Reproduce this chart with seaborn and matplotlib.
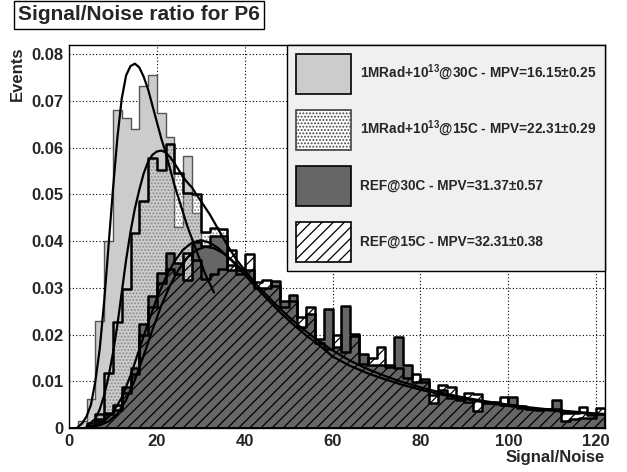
import numpy as np
import pandas as pd
import matplotlib
matplotlib.use('Agg')
import matplotlib.pyplot as plt
import seaborn as sns
from matplotlib.patches import Patch
from matplotlib.ticker import MultipleLocator

# ==========================================
# 数据：S/N 直方图 (bin 宽度 2, 0 - 122)
# ==========================================
bin_edges = np.arange(0, 124, 2)
bin_centers = bin_edges[:-1] + 1

# 1MRad+10^13 @30C
rad30 = [0, 0.0015, 0.0063, 0.0229, 0.040, 0.0681, 0.0664, 0.0641, 0.0732, 0.0756,
         0.0675, 0.0624, 0.043, 0.0583, 0.046, 0.036, 0.030, 0.026, 0.022, 0.019,
         0.017, 0.015, 0.013, 0.012, 0.010, 0.009, 0.008, 0.007, 0.006, 0.0055,
         0.005, 0.0045, 0.004, 0.0035, 0.003, 0.003, 0.0025, 0.0025, 0.002, 0.002,
         0.002, 0.0015, 0.0015, 0.0015, 0.001, 0.001, 0.001, 0.001, 0.001, 0.001,
         0.001, 0.001, 0.0008, 0.0008, 0.0008, 0.0008, 0.0006, 0.0006, 0.0006, 0.0006,
         0.0006]
# 1MRad+10^13 @15C
rad15 = [0, 0, 0.001, 0.003, 0.0118, 0.0227, 0.0297, 0.0418, 0.0486, 0.0579,
         0.0552, 0.0608, 0.0547, 0.0504, 0.050, 0.042, 0.0429, 0.0427, 0.035, 0.031,
         0.027, 0.024, 0.021, 0.019, 0.017, 0.015, 0.013, 0.012, 0.011, 0.010,
         0.009, 0.008, 0.007, 0.0065, 0.006, 0.0055, 0.005, 0.0045, 0.004, 0.004,
         0.0035, 0.003, 0.003, 0.0028, 0.0026, 0.0024, 0.0022, 0.002, 0.002, 0.0018,
         0.0016, 0.0015, 0.0014, 0.0013, 0.0012, 0.0011, 0.001, 0.001, 0.001, 0.0009,
         0.0009]
# REF @30C
ref30 = [0, 0, 0.0003, 0.0015, 0.0033, 0.0038, 0.0088, 0.0128, 0.0222, 0.0282,
         0.0331, 0.0374, 0.0353, 0.0317, 0.0399, 0.0390, 0.0411, 0.0411, 0.0338, 0.0338,
         0.0338, 0.0299, 0.0300, 0.0315, 0.0272, 0.0285, 0.0217, 0.0245, 0.0190, 0.0255,
         0.0174, 0.0262, 0.0201, 0.0158, 0.0135, 0.0135, 0.0131, 0.0194, 0.0135, 0.0099,
         0.0104, 0.0053, 0.0081, 0.0064, 0.0063, 0.0055, 0.0036, 0.0056, 0.0055, 0.0050,
         0.0067, 0.0047, 0.0040, 0.0040, 0.0041, 0.0060, 0.0015, 0.0019, 0.0021, 0.0021,
         0.0030]
# REF @15C
ref15 = [0, 0, 0.0005, 0.002, 0.003, 0.005, 0.0075, 0.0115, 0.020, 0.026,
         0.031, 0.034, 0.033, 0.0374, 0.036, 0.032, 0.033, 0.034, 0.0382, 0.033,
         0.0373, 0.0312, 0.0316, 0.0305, 0.0260, 0.0272, 0.0237, 0.0260, 0.0181, 0.0170,
         0.0199, 0.0163, 0.0196, 0.0138, 0.0149, 0.0173, 0.0135, 0.0129, 0.0106, 0.0116,
         0.0099, 0.0071, 0.0093, 0.0087, 0.0060, 0.0074, 0.0072, 0.0054, 0.0053, 0.0066,
         0.0049, 0.0042, 0.0040, 0.0038, 0.0040, 0.0040, 0.0033, 0.0033, 0.0046, 0.0028,
         0.0043]

# 拟合曲线 (Landau)
fit_rad30_x = [2, 3, 4, 5, 6, 7, 8, 9, 10, 11, 12, 13, 14, 15, 16, 17, 18, 19, 20,
               21, 22, 23, 24, 25, 26, 27, 28, 29, 30, 31, 32, 33]
fit_rad30_y = [0.0002, 0.001, 0.0025, 0.005, 0.010, 0.017, 0.027, 0.039, 0.051, 0.062,
               0.0705, 0.0755, 0.0775, 0.078, 0.0772, 0.0752, 0.0725, 0.069, 0.0655,
               0.062, 0.059, 0.0555, 0.052, 0.049, 0.046, 0.043, 0.0405, 0.038, 0.0355,
               0.033, 0.031, 0.029]
fit_rad15_x = [4, 6, 7, 8, 9, 10, 11, 12, 13, 14, 15, 16, 17, 18, 19, 20, 21, 22, 23,
               24, 25, 26, 27, 28, 29, 30, 32, 34, 36, 38, 40, 42]
fit_rad15_y = [0.0003, 0.002, 0.004, 0.007, 0.011, 0.016, 0.022, 0.029, 0.036, 0.042,
               0.047, 0.051, 0.0545, 0.057, 0.0585, 0.0592, 0.0594, 0.059, 0.058,
               0.0567, 0.0552, 0.0537, 0.0525, 0.0515, 0.050, 0.0486, 0.0458, 0.0425,
               0.0392, 0.0362, 0.0338, 0.0315]
fit_ref30_x = [5, 7, 9, 11, 13, 15, 17, 19, 21, 23, 25, 27, 29, 31, 33, 35, 37, 39, 41,
               44, 47, 50, 53, 56, 60, 64, 68, 72, 76, 80, 85, 90, 95, 100, 105, 110,
               115, 120, 122]
fit_ref30_y = [0.0002, 0.0006, 0.0014, 0.003, 0.006, 0.0103, 0.0155, 0.021, 0.0262,
               0.0305, 0.034, 0.0365, 0.0381, 0.0388, 0.0385, 0.0375, 0.036, 0.0343,
               0.0324, 0.0294, 0.0265, 0.0238, 0.0214, 0.0192, 0.0166, 0.0144, 0.0126,
               0.0111, 0.0098, 0.0087, 0.0075, 0.0065, 0.0057, 0.005, 0.0044, 0.0039,
               0.0035, 0.0031, 0.003]
fit_ref15_x = [4, 6, 8, 10, 12, 14, 16, 18, 20, 22, 24, 26, 28, 30, 32, 34, 36, 38, 40,
               42, 45, 48, 51, 54, 57, 60, 64, 68, 72, 76, 80, 85, 90, 95, 100, 105,
               110, 115, 120, 122]
fit_ref15_y = [0.0002, 0.0006, 0.0015, 0.0033, 0.0065, 0.0112, 0.0168, 0.0225, 0.0278,
               0.0322, 0.0357, 0.0382, 0.0397, 0.0402, 0.0397, 0.0385, 0.0368, 0.0349,
               0.0328, 0.0307, 0.0277, 0.0248, 0.0222, 0.0198, 0.0177, 0.0153, 0.0133,
               0.0117, 0.0104, 0.0092, 0.0082, 0.0071, 0.0062, 0.0054, 0.0047, 0.0042,
               0.0037, 0.0033, 0.0030, 0.0029]

labels = ['1MRad+$10^{13}$@30C - MPV=16.15\u00b10.25',
          '1MRad+$10^{13}$@15C - MPV=22.31\u00b10.29',
          'REF@30C - MPV=31.37\u00b10.57',
          'REF@15C - MPV=32.31\u00b10.38']
y_ticks = [0, 0.01, 0.02, 0.03, 0.04, 0.05, 0.06, 0.07, 0.08]
y_tick_labels = ['0', '0.01', '0.02', '0.03', '0.04', '0.05', '0.06', '0.07', '0.08']
x_ticks = [0, 20, 40, 60, 80, 100, 120]
x_tick_labels = ['0', '20', '40', '60', '80', '100', '120']

# ==========================================
# 绘图
# ==========================================
sns.set_style('white')
plt.rcParams['font.family'] = ['Liberation Sans', 'DejaVu Sans']
plt.rcParams['font.weight'] = 'bold'
plt.rcParams['axes.labelweight'] = 'bold'
plt.rcParams['mathtext.fontset'] = 'custom'
plt.rcParams['mathtext.rm'] = 'Liberation Sans:bold'
plt.rcParams['mathtext.it'] = 'Liberation Sans:bold'
plt.rcParams['mathtext.bf'] = 'Liberation Sans:bold'
plt.rcParams['hatch.linewidth'] = 0.9

fig = plt.figure(figsize=(6.27, 4.72), dpi=100)
ax = fig.add_axes([69 / 627, 1 - 428 / 472, (605 - 69) / 627, (428 - 45) / 472])


def hist(vals, **kw):
    df = pd.DataFrame({'sn': bin_centers, 'w': vals})
    sns.histplot(data=df, x='sn', weights='w', binwidth=2, binrange=(0, 122),
                 element='step', ax=ax, **kw)


# 绘制顺序与 ROOT 中相同 (后画的在上面)
hist(rad30, fill=True, color='#cccccc', facecolor='#cccccc', edgecolor='#555555',
     linewidth=1.0, zorder=1.0)
hist(rad15, fill=True, color='#8a8a8a', facecolor='none', edgecolor='#8a8a8a', linewidth=0,
     hatch='.....', zorder=1.1)
hist(rad15, fill=False, color='black', linewidth=1.8, zorder=1.2)
hist(ref30, fill=True, color='#666666', facecolor='#666666', edgecolor='black',
     linewidth=1.8, zorder=1.3)
hist(ref15, fill=True, color='black', facecolor='none', edgecolor='black', linewidth=1.8,
     hatch='///', zorder=1.4)

for fx, fy in [(fit_rad30_x, fit_rad30_y), (fit_rad15_x, fit_rad15_y),
               (fit_ref30_x, fit_ref30_y), (fit_ref15_x, fit_ref15_y)]:
    sns.lineplot(x=fx, y=fy, color='black', linewidth=1.6, sort=False, estimator=None,
                 ax=ax, zorder=2)

ax.set_xlim(0, 122)
ax.set_ylim(0, 0.082)
ax.set_xticks(x_ticks)
ax.set_xticklabels(x_tick_labels)
ax.set_yticks(y_ticks)
ax.set_yticklabels(y_tick_labels)
ax.xaxis.set_minor_locator(MultipleLocator(4))
ax.yaxis.set_minor_locator(MultipleLocator(0.002))
ax.tick_params(which='major', direction='in', length=14, width=1, labelsize=12, pad=4)
ax.tick_params(which='minor', direction='in', length=7, width=1)
ax.grid(True, which='major', color='black', linestyle=(0, (1, 2)), linewidth=0.8)
ax.set_axisbelow(True)
for s in ax.spines.values():
    s.set_color('black')
    s.set_linewidth(1)

ax.set_xlabel('Signal/Noise', fontsize=12, loc='right')
ax.xaxis.set_label_coords(1.0, -0.057)
ax.set_ylabel('Events', fontsize=12, loc='top')
ax.yaxis.set_label_coords(-0.082, 0.995)

handles = [Patch(facecolor='#cccccc', edgecolor='black', linewidth=1.2),
           Patch(facecolor='white', edgecolor='#444444', linewidth=1.2, hatch='.....'),
           Patch(facecolor='#666666', edgecolor='black', linewidth=1.2),
           Patch(facecolor='white', edgecolor='black', linewidth=1.2, hatch='///')]
leg = ax.legend(handles, labels, loc='upper right', bbox_to_anchor=(1, 1), borderaxespad=0,
                fontsize=9.8, handlelength=4.1, handleheight=4.15, labelspacing=1.18,
                handletextpad=0.6, borderpad=0.65, fancybox=False, framealpha=1,
                facecolor='#f0f0f0', edgecolor='black')
leg.get_frame().set_linewidth(1)

fig.text(18 / 627, 1 - 15 / 472, 'Signal/Noise ratio for P6', fontsize=15, fontweight='bold',
         ha='left', va='center',
         bbox=dict(boxstyle='square,pad=0.2', facecolor='white', edgecolor='black', linewidth=1))

fig.savefig('out.png', dpi=100)
